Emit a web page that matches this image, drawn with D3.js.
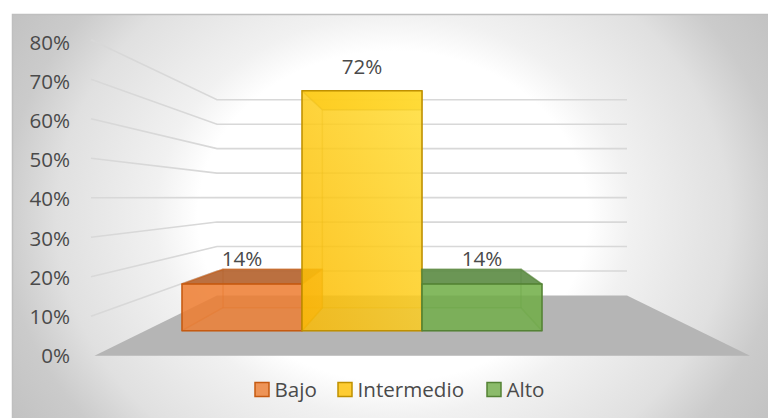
<!DOCTYPE html>
<html>
<head>
<meta charset="utf-8">
<script src="https://d3js.org/d3.v7.min.js"></script>
<style>
  html, body { margin: 0; padding: 0; background: #fff; }
  svg { display: block; }
  text { font-family: "Open Sans", sans-serif; fill: #4a4a4a; font-size: 20.6px; }
</style>
</head>
<body>
<svg width="768" height="418" class="chart"></svg>
<script>
  const categories = ["Bajo", "Intermedio", "Alto"];
  const values = [14, 72, 14];
  const valueLabels = ["14%", "72%", "14%"];
  const ticks = [0, 10, 20, 30, 40, 50, 60, 70, 80];

  const faceColors = ["#ed7d31", "#ffc000", "#70ad47"];
  const edgeColors = ["#c55a11", "#bf9000", "#548235"];
  const topColors = ["#b0622f", "#ffc000", "#5c8a45"];

  const svg = d3.select(".chart");

  // background gradient, an ellipse wider than tall
  const defs = svg.append("defs");
  const bg = defs.append("radialGradient").attr("id", "bg")
    .attr("gradientUnits", "userSpaceOnUse")
    .attr("cx", 0).attr("cy", 0).attr("r", 2.3)
    .attr("gradientTransform", "translate(393,216) scale(195,165)");
  [[0, "#ffffff"], [0.435, "#ffffff"], [0.53, "#f1f1f1"], [0.75, "#e0e0e0"], [0.87, "#cbcbcb"], [1, "#c2c2c2"]].forEach(s => {
    bg.append("stop").attr("offset", s[0]).attr("stop-color", s[1]);
  });
  const yellow = defs.append("linearGradient").attr("id", "yellowFace")
    .attr("x1", "0").attr("y1", "1").attr("x2", "1").attr("y2", "0");
  yellow.append("stop").attr("offset", 0).attr("stop-color", "#fbb900");
  yellow.append("stop").attr("offset", 1).attr("stop-color", "#ffe23f");

  svg.append("rect").attr("x", 12).attr("y", 14).attr("width", 756).attr("height", 404)
    .attr("fill", "url(#bg)");
  svg.append("path").attr("d", "M12.5,418V14.5H768").attr("fill", "none")
    .attr("stroke", "#bfbfbf").attr("stroke-width", 1.5);

  // the planes of the 3d box
  const yWallFront = d3.scaleLinear().domain([0, 80]).range([355.8, 39.8]);
  const yWallBack = d3.scaleLinear().domain([0, 80]).range([295.5, 99.7]);
  const yBarFront = d3.scaleLinear().domain([0, 72]).range([330.7, 90.7]);
  const yBarBack = d3.scaleLinear().domain([0, 72]).range([307.7, 109.7]);
  const yTick = d3.scaleLinear().domain([0, 80]).range([355.7, 42.3]);
  const xBarFront = d3.scaleBand().domain(categories).range([182, 542]);
  const xBarBack = d3.scaleBand().domain(categories).range([223, 521]);
  const xWall = d3.scaleOrdinal().domain(["front", "back", "right"]).range([91, 217, 627]);

  const line = d3.line();

  // floor
  svg.append("path")
    .attr("d", line([[94.5, yWallFront(0)], [xWall("back"), yWallBack(0)], [xWall("right"), yWallBack(0)], [750, yWallFront(0)]]) + "Z")
    .attr("fill", "#b5b5b5");

  // gridlines on left and back walls
  svg.append("g").selectAll("path")
    .data(ticks.filter(d => d > 0))
    .enter().append("path")
    .attr("d", d => line([[xWall("front"), yWallFront(d)], [xWall("back"), yWallBack(d)], [xWall("right"), yWallBack(d)]]))
    .attr("fill", "none")
    .attr("stroke", "#d8d8d8")
    .attr("stroke-width", 1.6);

  // tick labels
  svg.append("g").selectAll("text")
    .data(ticks)
    .enter().append("text")
    .attr("x", 70)
    .attr("y", d => yTick(d))
    .attr("dy", "0.36em")
    .attr("text-anchor", "end")
    .text(d => d + "%");

  // bars
  const bars = svg.append("g").selectAll("g")
    .data(categories)
    .enter().append("g");

  const corners = (d, i) => {
    const xf0 = xBarFront(d), xf1 = xf0 + xBarFront.bandwidth();
    const xb0 = xBarBack(d), xb1 = xb0 + xBarBack.bandwidth();
    const y0f = yBarFront(0), y1f = yBarFront(values[i]);
    const y0b = yBarBack(0), y1b = yBarBack(values[i]);
    return {xf0, xf1, xb0, xb1, y0f, y1f, y0b, y1b};
  };

  const face = (sel, pts, fill, opacity, edge) => sel.append("path")
    .attr("d", (d, i) => line(pts(corners(d, i))) + "Z")
    .attr("fill", fill)
    .attr("fill-opacity", opacity)
    .attr("stroke", (d, i) => edgeColors[i])
    .attr("stroke-width", 1.5)
    .attr("stroke-opacity", edge)
    .attr("stroke-linejoin", "round");

  // back, floor, sides, top, front
  face(bars, c => [[c.xb0, c.y0b], [c.xb1, c.y0b], [c.xb1, c.y1b], [c.xb0, c.y1b]], (d, i) => faceColors[i], 0.45, 0.2);
  face(bars, c => [[c.xf0, c.y0f], [c.xf1, c.y0f], [c.xb1, c.y0b], [c.xb0, c.y0b]], (d, i) => faceColors[i], 0.3, 0.2);
  face(bars, c => [[c.xf0, c.y0f], [c.xb0, c.y0b], [c.xb0, c.y1b], [c.xf0, c.y1f]], (d, i) => faceColors[i], 0.45, 0.2);
  face(bars, c => [[c.xf1, c.y0f], [c.xb1, c.y0b], [c.xb1, c.y1b], [c.xf1, c.y1f]], (d, i) => faceColors[i], 0.45, 0.2);
  face(bars, c => [[c.xf0, c.y1f], [c.xf1, c.y1f], [c.xb1, c.y1b], [c.xb0, c.y1b]], (d, i) => topColors[i], 0.85, 0.5);
  face(bars, c => [[c.xf0, c.y0f], [c.xf1, c.y0f], [c.xf1, c.y1f], [c.xf0, c.y1f]], (d, i) => i === 1 ? "url(#yellowFace)" : faceColors[i], 0.75, 1);

  // value labels
  svg.append("g").selectAll("text")
    .data(categories)
    .enter().append("text")
    .attr("x", d => xBarFront(d) + xBarFront.bandwidth() / 2)
    .attr("y", (d, i) => d === "Intermedio" ? yBarFront(values[i]) - 24 : yBarFront(values[i]) - 25)
    .attr("dy", "0.36em")
    .attr("text-anchor", "middle")
    .text((d, i) => valueLabels[i]);

  // legend
  const legendX = d3.scaleOrdinal().domain(categories).range([255, 338, 487]);
  const legend = svg.append("g").selectAll("g")
    .data(categories)
    .enter().append("g")
    .attr("transform", d => "translate(" + legendX(d) + ",382.5)");
  legend.append("rect")
    .attr("width", 14).attr("height", 14)
    .attr("fill", (d, i) => faceColors[i])
    .attr("fill-opacity", 0.8)
    .attr("stroke", (d, i) => edgeColors[i])
    .attr("stroke-width", 1.5);
  legend.append("text")
    .attr("x", 19.5).attr("y", 7).attr("dy", "0.36em")
    .text(d => d);
</script>
</body>
</html>
